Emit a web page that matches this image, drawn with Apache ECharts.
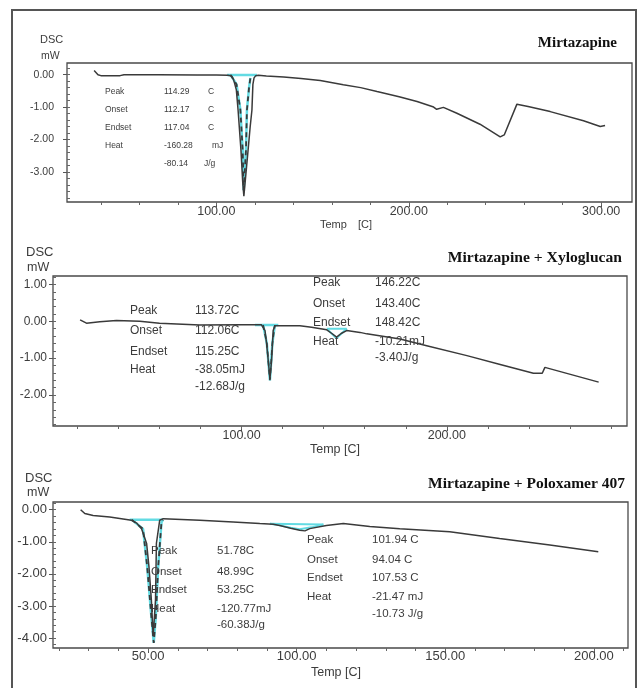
<!DOCTYPE html>
<html><head><meta charset="utf-8">
<script src="https://cdn.jsdelivr.net/npm/echarts@6/dist/echarts.min.js"></script>
<style>html,body{margin:0;padding:0;background:#fff}#c{width:637px;height:688px}</style>
</head><body><div id="c"></div>
<script>
// ---------- Panel 1: Mirtazapine ----------
const temp1 = [36.5, 38.5, 40, 50, 52, 70, 90, 100, 106, 108, 109, 110.4, 111.3, 112.8, 113.7, 114.3, 115.0, 116.5, 117.6, 118.5, 119.0, 119.6, 120.5, 121.8, 126, 135, 144, 154, 166, 175, 183.5, 195, 204.3, 212.9, 214.5, 218, 225, 237, 247.5, 249.6, 256.2, 262, 273.5, 290.8, 299.5, 302];
const dsc1  = [0.13, 0.0, -0.03, -0.03, 0.0, 0.0, -0.01, -0.01, -0.02, -0.04, -0.16, -0.47, -1.09, -2.33, -3.3, -3.75, -3.3, -2.33, -1.6, -1.09, -0.3, -0.1, -0.03, -0.02, -0.04, -0.07, -0.12, -0.18, -0.31, -0.4, -0.52, -0.68, -0.83, -1.0, -1.07, -1.01, -1.19, -1.53, -1.92, -1.86, -0.91, -0.98, -1.14, -1.42, -1.6, -1.57];
const fitT1 = [107.3, 110.5, 112.5, 113.7, 114.2, 114.7, 115.4, 115.9, 117.0, 117.7];
const fitV1 = [0.0, -0.3, -1.09, -2.33, -3.57, -3.57, -2.33, -1.09, -0.4, -0.1];
const baseT1 = [105.6, 121.1];
const baseV1 = [-0.01, -0.01];
const xLabels1 = [100, 200, 300];
const xMinor1 = [40, 60, 80, 100, 120, 140, 160, 180, 200, 220, 240, 260, 280, 300];
const yLabels1 = [0, -1, -2, -3];
const yMinor1 = [0.2, 0, -0.2, -0.4, -0.6, -0.8, -1, -1.2, -1.4, -1.6, -1.8, -2, -2.2, -2.4, -2.6, -2.8, -3, -3.2, -3.4, -3.6, -3.8];
const annLabels1 = ['Peak', 'Onset', 'Endset', 'Heat'];
const annValues1 = ['114.29', '112.17', '117.04', '-160.28', '-80.14'];
const annUnits1 = ['C', 'C', 'C', 'mJ', 'J/g'];

// ---------- Panel 2: Mirtazapine + Xyloglucan ----------
const temp2 = [21.3, 24.4, 30.9, 39, 50.4, 60, 79.7, 100, 109.6, 111.4, 112.2, 113.0, 113.8, 114.6, 115.4, 116.2, 128.4, 134.1, 141.5, 144, 146.3, 148.5, 151.2, 157.7, 161, 177.2, 190.2, 209.8, 226, 242.2, 246.5, 247.8, 274];
const dsc2  = [0.04, -0.05, -0.01, 0.02, 0.0, -0.05, -0.1, -0.09, -0.09, -0.25, -0.61, -1.07, -1.56, -1.07, -0.25, -0.12, -0.12, -0.16, -0.23, -0.33, -0.43, -0.33, -0.25, -0.3, -0.34, -0.48, -0.66, -0.93, -1.17, -1.41, -1.41, -1.25, -1.65];
const fitT2 = [110.5, 112.3, 113.8, 115.0, 116.2];
const fitV2 = [-0.1, -0.6, -1.6, -0.6, -0.1];
const baseT2 = [106.5, 117.9];
const baseV2 = [-0.1, -0.1];
const fitT2b = [141.5, 146.2, 151.2, 141.5];
const fitV2b = [-0.2, -0.46, -0.2, -0.2];
const xLabels2 = [100, 200];
const xMinor2 = [20, 40, 60, 80, 100, 120, 140, 160, 180, 200, 220, 240, 260, 280];
const yLabels2 = [1, 0, -1, -2];
const yMinor2 = [1.2, 1, 0.8, 0.6, 0.4, 0.2, 0, -0.2, -0.4, -0.6, -0.8, -1, -1.2, -1.4, -1.6, -1.8, -2, -2.2, -2.4, -2.6, -2.8];
const annLabels2a = ['Peak', 'Onset', 'Endset', 'Heat'];
const annValues2a = ['113.72C', '112.06C', '115.25C', '-38.05mJ', '-12.68J/g'];
const annLabels2b = ['Peak', 'Onset', 'Endset', 'Heat'];
const annValues2b = ['146.22C', '143.40C', '148.42C', '-10.21mJ', '-3.40J/g'];

// ---------- Panel 3: Mirtazapine + Poloxamer 407 ----------
const temp3 = [27.3, 28.7, 31.5, 37.1, 44.4, 46.2, 47.8, 49.5, 50.3, 51.1, 51.7, 52.0, 52.5, 52.8, 53.9, 55.1, 67.4, 78.6, 87.6, 92.1, 94.3, 98, 101, 102.8, 104.4, 110, 115.7, 124.6, 134.7, 151.5, 168.3, 185.2, 201.5];
const dsc3  = [0.0, -0.12, -0.18, -0.23, -0.33, -0.42, -0.59, -1.05, -1.78, -2.81, -3.95, -4.0, -2.81, -1.05, -0.33, -0.28, -0.33, -0.38, -0.43, -0.45, -0.49, -0.58, -0.64, -0.66, -0.59, -0.49, -0.43, -0.52, -0.59, -0.69, -0.9, -1.1, -1.31];
const fitT3 = [44.5, 48.3, 49.7, 51.1, 51.9, 52.6, 53.4, 54.5, 55.0];
const fitV3 = [-0.31, -0.6, -1.78, -3.33, -4.15, -3.33, -1.78, -0.4, -0.31];
const baseT3 = [43.8, 55.0];
const baseV3 = [-0.31, -0.31];
const fitT3b = [91, 94, 98, 101, 105, 109];
const fitV3b = [-0.44, -0.48, -0.56, -0.61, -0.55, -0.46];
const baseT3b = [91, 109];
const baseV3b = [-0.44, -0.46];
const xLabels3 = [50, 100, 150, 200];
const xMinor3 = [20, 30, 40, 50, 60, 70, 80, 90, 100, 110, 120, 130, 140, 150, 160, 170, 180, 190, 200, 210];
const yLabels3 = [0, -1, -2, -3, -4];
const yMinor3 = [0.2, 0, -0.2, -0.4, -0.6, -0.8, -1, -1.2, -1.4, -1.6, -1.8, -2, -2.2, -2.4, -2.6, -2.8, -3, -3.2, -3.4, -3.6, -3.8, -4, -4.2];
const annLabels3a = ['Peak', 'Onset', 'Endset', 'Heat'];
const annValues3a = ['51.78C', '48.99C', '53.25C', '-120.77mJ', '-60.38J/g'];
const annLabels3b = ['Peak', 'Onset', 'Endset', 'Heat'];
const annValues3b = ['101.94 C', '94.04 C', '107.53 C', '-21.47 mJ', '-10.73 J/g'];

const titles = ['Mirtazapine', 'Mirtazapine + Xyloglucan', 'Mirtazapine + Poloxamer 407'];

// ---------- building ----------
const zip = (a, b) => a.map((v, i) => [v, b[i]]);
const DARK = '#3a3a3a', CYAN = '#63dbe3', TXT = '#3c3c3c';
const SANS = '"Liberation Sans", Arial, sans-serif';

const panels = [
  {grid: {left: 67, top: 63, width: 565, height: 139}, xmin: 22.4, xmax: 316, ymin: -3.93, ymax: 0.36,
   xl: xLabels1, xm: xMinor1, yl: yLabels1, ym: yMinor1, xfs: 12.5, yfs: 10.5, ymargin: 9, xmargin: 3},
  {grid: {left: 53, top: 276, width: 574, height: 150}, xmin: 8.1, xmax: 287.8, ymin: -2.84, ymax: 1.23,
   xl: xLabels2, xm: xMinor2, yl: yLabels2, ym: yMinor2, xfs: 12.5, yfs: 12, ymargin: 2, xmargin: 3},
  {grid: {left: 53, top: 502, width: 575, height: 146}, xmin: 18, xmax: 211.5, ymin: -4.31, ymax: 0.24,
   xl: xLabels3, xm: xMinor3, yl: yLabels3, ym: yMinor3, xfs: 13, yfs: 13, ymargin: 2, xmargin: 2}
];

const grid = [], xAxis = [], yAxis = [];
panels.forEach((p, i) => {
  grid.push(Object.assign({show: true, borderColor: '#4a4a4a', borderWidth: 1.3, backgroundColor: 'transparent'}, p.grid));
  xAxis.push({gridIndex: i, type: 'value', position: 'bottom', min: p.xmin, max: p.xmax,
    axisLine: {show: false, onZero: false}, splitLine: {show: false},
    axisTick: {show: true, customValues: p.xl, length: 5, lineStyle: {color: '#555', width: 1}},
    axisLabel: {customValues: p.xl, formatter: v => v.toFixed(2), fontSize: p.xfs, color: TXT, fontFamily: SANS, margin: p.xmargin}});
  xAxis.push({gridIndex: i, type: 'value', position: 'bottom', offset: 0, min: p.xmin, max: p.xmax,
    axisLine: {show: false, onZero: false}, splitLine: {show: false}, axisLabel: {show: false},
    axisTick: {show: true, customValues: p.xm, length: 3, lineStyle: {color: '#666', width: 1}}});
  yAxis.push({gridIndex: i, type: 'value', position: 'left', min: p.ymin, max: p.ymax,
    axisLine: {show: false, onZero: false}, splitLine: {show: false},
    axisTick: {show: true, customValues: p.yl, length: 4, lineStyle: {color: '#555', width: 1}},
    axisLabel: {customValues: p.yl, formatter: v => v.toFixed(2), fontSize: p.yfs, color: TXT, fontFamily: SANS, margin: p.ymargin + 4}});
  yAxis.push({gridIndex: i, type: 'value', position: 'left', offset: 0, min: p.ymin, max: p.ymax,
    axisLine: {show: false, onZero: false}, splitLine: {show: false}, axisLabel: {show: false},
    axisTick: {show: true, inside: true, customValues: p.ym, length: 3, lineStyle: {color: '#666', width: 1}}});
});

function ln(i, data, color, width, type, z) {
  return {type: 'line', xAxisIndex: i * 2, yAxisIndex: i * 2, data: data, symbol: 'none', smooth: false,
    silent: true, animation: false, z: z || 2, lineStyle: {color: color, width: width, type: type || 'solid'}};
}
const series = [
  ln(0, zip(baseT1, baseV1), CYAN, 2.5), ln(0, zip(fitT1, fitV1), CYAN, 2.5),
  ln(0, zip(temp1, dsc1), DARK, 1.5, 'solid', 3), ln(0, zip(fitT1, fitV1), DARK, 1.8, [5, 4], 4),
  ln(1, zip(baseT2, baseV2), CYAN, 2.5), ln(1, zip(fitT2, fitV2), CYAN, 2.5), ln(1, zip(fitT2b, fitV2b), CYAN, 2),
  ln(1, zip(temp2, dsc2), DARK, 1.5, 'solid', 3), ln(1, zip(fitT2, fitV2), DARK, 1.6, [5, 4], 4),
  ln(2, zip(baseT3, baseV3), CYAN, 2.5), ln(2, zip(fitT3, fitV3), CYAN, 2.5),
  ln(2, zip(baseT3b, baseV3b), CYAN, 2), ln(2, zip(fitT3b, fitV3b), CYAN, 2),
  ln(2, zip(temp3, dsc3), DARK, 1.5, 'solid', 3), ln(2, zip(fitT3, fitV3), DARK, 1.8, [5, 4], 4)
];

// ---------- text graphics ----------
const g = [];
function txt(s, x, y, size, opts) {
  opts = opts || {};
  g.push({type: 'text', x: x, y: y, z: 100, silent: true, style: {text: s,
    font: (opts.weight || 'normal') + ' ' + size + 'px ' + (opts.family || SANS),
    fill: opts.fill || TXT, textAlign: opts.align || 'left', textVerticalAlign: 'middle'}});
}
// outer frame
g.push({type: 'rect', shape: {x: 12, y: 10, width: 624, height: 700}, style: {fill: 'none', stroke: '#555', lineWidth: 2}, z: 0, silent: true});
// titles
const SERIF = '"Liberation Serif", "Times New Roman", serif';
txt(titles[0], 617, 43, 15, {weight: 'bold', family: SERIF, fill: '#111', align: 'right'});
txt(titles[1], 622, 258, 15.6, {weight: 'bold', family: SERIF, fill: '#111', align: 'right'});
txt(titles[2], 625, 484, 15.5, {weight: 'bold', family: SERIF, fill: '#111', align: 'right'});
// axis names
txt('DSC', 40, 40, 11); txt('mW', 41, 56, 10.5);
txt('DSC', 26, 252, 13); txt('mW', 27, 268, 12.5);
txt('DSC', 25, 478, 13); txt('mW', 27, 493, 12.5);
txt('Temp', 320, 225, 11); txt('[C]', 358, 225, 11);
txt('Temp [C]', 310, 450, 12.5);
txt('Temp [C]', 311, 673, 12.5);
// panel 1 annotations
const y1 = [92, 110, 128, 146, 164];
annLabels1.forEach((s, k) => txt(s, 105, y1[k], 8.5));
annValues1.forEach((s, k) => txt(s, 164, y1[k], 8.5));
const ux1 = [208, 208, 208, 212, 204];
annUnits1.forEach((s, k) => txt(s, ux1[k], y1[k], 8.5));
// panel 2 annotations
const y2a = [311, 331, 352, 370, 387];
annLabels2a.forEach((s, k) => txt(s, 130, y2a[k], 12));
annValues2a.forEach((s, k) => txt(s, 195, y2a[k], 12));
const y2b = [283, 304, 323, 342, 358];
annLabels2b.forEach((s, k) => txt(s, 313, y2b[k], 12));
annValues2b.forEach((s, k) => txt(s, 375, y2b[k], 12));
// panel 3 annotations
const y3a = [551, 572, 590, 609, 625];
annLabels3a.forEach((s, k) => txt(s, 151, y3a[k], 11.5));
annValues3a.forEach((s, k) => txt(s, 217, y3a[k], 11.5));
const y3b = [540, 560, 578, 597, 614];
annLabels3b.forEach((s, k) => txt(s, 307, y3b[k], 11.5));
annValues3b.forEach((s, k) => txt(s, 372, y3b[k], 11.5));

const chart = echarts.init(document.getElementById('c'), null, {renderer: 'canvas'});
chart.setOption({animation: false, backgroundColor: '#fff', grid: grid, xAxis: xAxis, yAxis: yAxis, series: series, graphic: {elements: g}});
</script></body></html>
